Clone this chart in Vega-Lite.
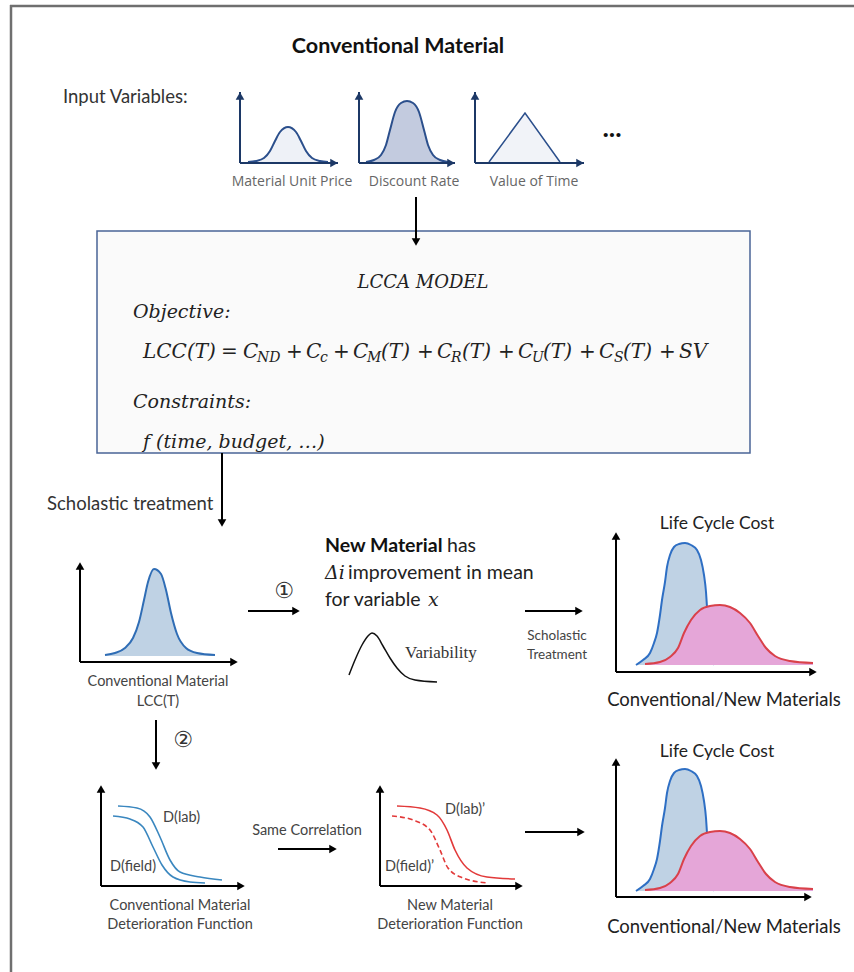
{
"$schema": "https://vega.github.io/schema/vega-lite/v6.json",
"width": 854, "height": 972, "padding": 0, "autosize": {"type": "none"},
"background": "white",
"config": {"view": {"stroke": null}},
"datasets": {
"frame": [{"x":10,"y":6,"x2":854,"y2":6},{"x":11,"y":5,"x2":11,"y2":972}],
"box": [{"x":97,"y":231,"x2":750,"y2":453}],
"rules": [
{"x":240,"y":163,"x2":240,"y2":92,"c":"navy"},{"x":240,"y":163,"x2":338,"y2":163,"c":"navy"},
{"x":359,"y":163,"x2":359,"y2":92,"c":"navy"},{"x":359,"y":163,"x2":455,"y2":163,"c":"navy"},
{"x":475,"y":163,"x2":475,"y2":92,"c":"navy"},{"x":475,"y":163,"x2":584,"y2":163,"c":"navy"},
{"x":416,"y":197,"x2":416,"y2":244,"c":"black"},{"x":222,"y":453,"x2":222,"y2":525,"c":"black"},
{"x":80,"y":662,"x2":80,"y2":564,"c":"black"},{"x":80,"y":662,"x2":236,"y2":662,"c":"black"},
{"x":248,"y":611,"x2":298,"y2":611,"c":"black"},{"x":525,"y":611,"x2":581,"y2":611,"c":"black"},
{"x":616,"y":672,"x2":616,"y2":534,"c":"black"},{"x":616,"y":672,"x2":815,"y2":672,"c":"black"},
{"x":156,"y":720,"x2":156,"y2":768,"c":"black"},
{"x":101,"y":886,"x2":101,"y2":787,"c":"black"},{"x":101,"y":886,"x2":243,"y2":886,"c":"black"},
{"x":278,"y":849,"x2":335,"y2":849,"c":"black"},
{"x":380,"y":886,"x2":380,"y2":787,"c":"black"},{"x":380,"y":886,"x2":521,"y2":886,"c":"black"},
{"x":525,"y":832,"x2":583,"y2":832,"c":"black"},
{"x":616,"y":897,"x2":616,"y2":760,"c":"black"},{"x":616,"y":897,"x2":810,"y2":897,"c":"black"}
],
"heads": [
{"x":240,"y":96,"d":"up","c":"navy"},{"x":359,"y":96,"d":"up","c":"navy"},{"x":475,"y":96,"d":"up","c":"navy"},
{"x":334,"y":163,"d":"right","c":"navy"},{"x":451,"y":163,"d":"right","c":"navy"},{"x":580,"y":163,"d":"right","c":"navy"},
{"x":416,"y":242,"d":"down","c":"black"},{"x":222,"y":523,"d":"down","c":"black"},
{"x":80,"y":566,"d":"up","c":"black"},{"x":234,"y":662,"d":"right","c":"black"},
{"x":296,"y":611,"d":"right","c":"black"},{"x":579,"y":611,"d":"right","c":"black"},
{"x":616,"y":536,"d":"up","c":"black"},{"x":813,"y":672,"d":"right","c":"black"},
{"x":156,"y":766,"d":"down","c":"black"},
{"x":101,"y":789,"d":"up","c":"black"},{"x":241,"y":886,"d":"right","c":"black"},
{"x":333,"y":849,"d":"right","c":"black"},
{"x":380,"y":789,"d":"up","c":"black"},{"x":519,"y":886,"d":"right","c":"black"},
{"x":581,"y":832,"d":"right","c":"black"},
{"x":616,"y":762,"d":"up","c":"black"},{"x":808,"y":897,"d":"right","c":"black"}
],
"curves": [
{"id":"c1","x":248,"y":162},{"id":"c1","x":256,"y":161},{"id":"c1","x":264,"y":158},{"id":"c1","x":270,"y":151},{"id":"c1","x":275,"y":141},{"id":"c1","x":280,"y":132},{"id":"c1","x":288,"y":127},{"id":"c1","x":296,"y":132},{"id":"c1","x":301,"y":141},{"id":"c1","x":306,"y":151},{"id":"c1","x":312,"y":158},{"id":"c1","x":320,"y":161},{"id":"c1","x":328,"y":162},
{"id":"c2","x":366,"y":162},{"id":"c2","x":374,"y":160},{"id":"c2","x":381,"y":155},{"id":"c2","x":386,"y":145},{"id":"c2","x":390,"y":130},{"id":"c2","x":395,"y":112},{"id":"c2","x":401,"y":103},{"id":"c2","x":407,"y":101},{"id":"c2","x":413,"y":103},{"id":"c2","x":419,"y":112},{"id":"c2","x":424,"y":130},{"id":"c2","x":428,"y":145},{"id":"c2","x":433,"y":155},{"id":"c2","x":440,"y":160},{"id":"c2","x":448,"y":162},
{"id":"tri","x":489,"y":162},{"id":"tri","x":525,"y":113},{"id":"tri","x":560,"y":162},
{"id":"A","x":105,"y":655},{"id":"A","x":115,"y":653},{"id":"A","x":125,"y":648},{"id":"A","x":133,"y":638},{"id":"A","x":139,"y":622},{"id":"A","x":144,"y":600},{"id":"A","x":148,"y":582},{"id":"A","x":154,"y":569},{"id":"A","x":161,"y":574},{"id":"A","x":166,"y":590},{"id":"A","x":171,"y":613},{"id":"A","x":177,"y":634},{"id":"A","x":186,"y":648},{"id":"A","x":197,"y":653},{"id":"A","x":215,"y":655},
{"id":"var","x":349,"y":675},{"id":"var","x":355,"y":660},{"id":"var","x":362,"y":645},{"id":"var","x":368,"y":636},{"id":"var","x":372,"y":633},{"id":"var","x":377,"y":636},{"id":"var","x":383,"y":646},{"id":"var","x":390,"y":658},{"id":"var","x":397,"y":668},{"id":"var","x":405,"y":676},{"id":"var","x":415,"y":680},{"id":"var","x":437,"y":682},
{"id":"Bb","x":636,"y":665},{"id":"Bb","x":643,"y":660},{"id":"Bb","x":650,"y":653},{"id":"Bb","x":654,"y":643},{"id":"Bb","x":657,"y":633},{"id":"Bb","x":660,"y":615},{"id":"Bb","x":662,"y":600},{"id":"Bb","x":665,"y":582},{"id":"Bb","x":667,"y":567},{"id":"Bb","x":670,"y":555},{"id":"Bb","x":674,"y":547},{"id":"Bb","x":679,"y":544},{"id":"Bb","x":685,"y":543},{"id":"Bb","x":691,"y":545},{"id":"Bb","x":697,"y":550},{"id":"Bb","x":701,"y":560},{"id":"Bb","x":704,"y":575},{"id":"Bb","x":706,"y":592},{"id":"Bb","x":707,"y":607},{"id":"Bb","x":709,"y":630},{"id":"Bb","x":712,"y":655},{"id":"Bb","x":714,"y":665},
{"id":"Br","x":645,"y":664},{"id":"Br","x":660,"y":662},{"id":"Br","x":670,"y":657},{"id":"Br","x":678,"y":648},{"id":"Br","x":684,"y":633},{"id":"Br","x":691,"y":620},{"id":"Br","x":700,"y":610},{"id":"Br","x":710,"y":606},{"id":"Br","x":720,"y":605},{"id":"Br","x":730,"y":607},{"id":"Br","x":740,"y":613},{"id":"Br","x":750,"y":623},{"id":"Br","x":758,"y":636},{"id":"Br","x":766,"y":648},{"id":"Br","x":775,"y":656},{"id":"Br","x":790,"y":661},{"id":"Br","x":813,"y":663},
{"id":"Eb","x":636,"y":891},{"id":"Eb","x":643,"y":886},{"id":"Eb","x":650,"y":879},{"id":"Eb","x":654,"y":869},{"id":"Eb","x":657,"y":859},{"id":"Eb","x":660,"y":841},{"id":"Eb","x":662,"y":826},{"id":"Eb","x":665,"y":808},{"id":"Eb","x":667,"y":793},{"id":"Eb","x":670,"y":781},{"id":"Eb","x":674,"y":773},{"id":"Eb","x":679,"y":770},{"id":"Eb","x":685,"y":769},{"id":"Eb","x":691,"y":771},{"id":"Eb","x":697,"y":776},{"id":"Eb","x":701,"y":786},{"id":"Eb","x":704,"y":801},{"id":"Eb","x":706,"y":818},{"id":"Eb","x":707,"y":833},{"id":"Eb","x":709,"y":856},{"id":"Eb","x":712,"y":881},{"id":"Eb","x":714,"y":891},
{"id":"Er","x":645,"y":890},{"id":"Er","x":660,"y":888},{"id":"Er","x":670,"y":883},{"id":"Er","x":678,"y":874},{"id":"Er","x":684,"y":859},{"id":"Er","x":691,"y":846},{"id":"Er","x":700,"y":836},{"id":"Er","x":710,"y":832},{"id":"Er","x":720,"y":831},{"id":"Er","x":730,"y":833},{"id":"Er","x":740,"y":839},{"id":"Er","x":750,"y":849},{"id":"Er","x":758,"y":862},{"id":"Er","x":766,"y":874},{"id":"Er","x":775,"y":882},{"id":"Er","x":790,"y":887},{"id":"Er","x":813,"y":889},
{"id":"Blab","x":118,"y":806},{"id":"Blab","x":137,"y":808},{"id":"Blab","x":150,"y":817},{"id":"Blab","x":160,"y":837},{"id":"Blab","x":170,"y":860},{"id":"Blab","x":180,"y":872},{"id":"Blab","x":200,"y":877},{"id":"Blab","x":222,"y":880},
{"id":"Bfield","x":113,"y":816},{"id":"Bfield","x":130,"y":819},{"id":"Bfield","x":143,"y":827},{"id":"Bfield","x":153,"y":847},{"id":"Bfield","x":162,"y":865},{"id":"Bfield","x":173,"y":877},{"id":"Bfield","x":190,"y":882},{"id":"Bfield","x":205,"y":883},
{"id":"Rlab","x":397,"y":806},{"id":"Rlab","x":420,"y":808},{"id":"Rlab","x":437,"y":815},{"id":"Rlab","x":447,"y":830},{"id":"Rlab","x":455,"y":850},{"id":"Rlab","x":467,"y":868},{"id":"Rlab","x":487,"y":877},{"id":"Rlab","x":515,"y":879},
{"id":"Rfield","x":392,"y":816},{"id":"Rfield","x":413,"y":820},{"id":"Rfield","x":430,"y":830},{"id":"Rfield","x":440,"y":850},{"id":"Rfield","x":448,"y":868},{"id":"Rfield","x":463,"y":878},{"id":"Rfield","x":488,"y":883}
],
"texts": [
{"g":"title","t":"Conventional Material","x":398,"y":47},
{"g":"iv","t":"Input Variables:","x":63,"y":97},
{"g":"iv","t":"Scholastic treatment","x":47,"y":504},
{"g":"dots","t":"...","x":612,"y":129},
{"g":"tiny","t":"Material Unit Price","x":292,"y":182},
{"g":"tiny","t":"Discount Rate","x":414,"y":182},
{"g":"tiny","t":"Value of Time","x":534,"y":182},
{"g":"mathc","t":"LCCA MODEL","x":423,"y":283},
{"g":"math","t":"Objective:","x":133,"y":312},
{"g":"math","t":"Constraints:","x":133,"y":402},
{"g":"math","t":"f (time, budget, …)","x":143,"y":442},
{"g":"form","t":"LCC(T)","x":143,"y":352},
{"g":"form","t":"=","x":221,"y":352},
{"g":"form","t":"C","x":243,"y":352},
{"g":"sub","t":"ND","x":257,"y":358},
{"g":"form","t":"+","x":286,"y":352},
{"g":"form","t":"C","x":306,"y":352},
{"g":"sub","t":"c","x":320,"y":358},
{"g":"form","t":"+","x":333,"y":352},
{"g":"form","t":"C","x":353,"y":352},
{"g":"sub","t":"M","x":367,"y":358},
{"g":"form","t":"(T)","x":381,"y":352},
{"g":"form","t":"+","x":417,"y":352},
{"g":"form","t":"C","x":437,"y":352},
{"g":"sub","t":"R","x":451,"y":358},
{"g":"form","t":"(T)","x":462,"y":352},
{"g":"form","t":"+","x":498,"y":352},
{"g":"form","t":"C","x":518,"y":352},
{"g":"sub","t":"U","x":532,"y":358},
{"g":"form","t":"(T)","x":543,"y":352},
{"g":"form","t":"+","x":579,"y":352},
{"g":"form","t":"C","x":599,"y":352},
{"g":"sub","t":"S","x":614,"y":358},
{"g":"form","t":"(T)","x":623,"y":352},
{"g":"form","t":"+","x":659,"y":352},
{"g":"form","t":"SV","x":679,"y":352},
{"g":"cap13","t":"Conventional Material","x":158,"y":682},
{"g":"cap13","t":"LCC(T)","x":158,"y":702},
{"g":"cap13","t":"Conventional Material","x":180,"y":906},
{"g":"cap13","t":"Deterioration Function","x":180,"y":925},
{"g":"cap13","t":"New Material","x":450,"y":906},
{"g":"cap13","t":"Deterioration Function","x":450,"y":925},
{"g":"circ","t":"①","x":284,"y":591},
{"g":"circ","t":"②","x":183,"y":740},
{"g":"nmb","t":"New Material","x":325,"y":546},
{"g":"nm","t":"has","x":447,"y":546},
{"g":"nm","t":"improvement in mean","x":348,"y":573},
{"g":"nm","t":"for variable","x":325,"y":600},
{"g":"nmi","t":"Δi","x":325,"y":573},
{"g":"nmi","t":"x","x":428,"y":600},
{"g":"var","t":"Variability","x":405,"y":653},
{"g":"cap12","t":"Scholastic","x":557,"y":636},
{"g":"cap12","t":"Treatment","x":557,"y":655},
{"g":"sc","t":"Same Correlation","x":307,"y":831},
{"g":"dl","t":"D(lab)","x":163,"y":818},
{"g":"dl","t":"D(field)","x":110,"y":867},
{"g":"dl","t":"D(lab)’","x":445,"y":810},
{"g":"dl","t":"D(field)’","x":385,"y":867},
{"g":"lcc","t":"Life Cycle Cost","x":717,"y":524},
{"g":"lcc","t":"Life Cycle Cost","x":717,"y":752},
{"g":"cnm","t":"Conventional/New Materials","x":724,"y":700},
{"g":"cnm","t":"Conventional/New Materials","x":724,"y":927}
]
},
"encoding": {
"x": {"field":"x","type":"quantitative","scale":{"domain":[0,854],"nice":false,"zero":false},"axis":null},
"y": {"field":"y","type":"quantitative","scale":{"domain":[0,972],"nice":false,"zero":false,"reverse":true},"axis":null}
},
"layer": [
{"data":{"name":"box"},"mark":{"type":"rect","fill":"#fafafa","stroke":"#4a6496","strokeWidth":1.5},"encoding":{"x2":{"field":"x2"},"y2":{"field":"y2"}}},
{"data":{"name":"frame"},"mark":{"type":"rule","stroke":"#6f6f6f","strokeWidth":2.5},"encoding":{"x2":{"field":"x2"},"y2":{"field":"y2"}}},
{"data":{"name":"curves"},"transform":[{"filter":"datum.id==='c1'"}],"mark":{"type":"area","fill":"#eef1f7","interpolate":"monotone"},"encoding":{"y2":{"datum":163}}},
{"data":{"name":"curves"},"transform":[{"filter":"datum.id==='c2'"}],"mark":{"type":"area","fill":"#c3cbdf","interpolate":"monotone"},"encoding":{"y2":{"datum":163}}},
{"data":{"name":"curves"},"transform":[{"filter":"datum.id==='tri'"}],"mark":{"type":"area","fill":"#f1f3f8","interpolate":"linear"},"encoding":{"y2":{"datum":163}}},
{"data":{"name":"curves"},"transform":[{"filter":"datum.id==='c1' || datum.id==='c2'"}],"mark":{"type":"line","stroke":"#2b4f8c","strokeWidth":2,"interpolate":"monotone"},"encoding":{"detail":{"field":"id"}}},
{"data":{"name":"curves"},"transform":[{"filter":"datum.id==='tri'"}],"mark":{"type":"line","stroke":"#2b4f8c","strokeWidth":1.5,"interpolate":"linear"}},
{"data":{"name":"curves"},"transform":[{"filter":"datum.id==='A'"}],"mark":{"type":"area","fill":"#bfd2e4","interpolate":"monotone"},"encoding":{"y2":{"datum":656}}},
{"data":{"name":"curves"},"transform":[{"filter":"datum.id==='A'"}],"mark":{"type":"line","stroke":"#2f6db5","strokeWidth":2,"interpolate":"monotone"}},
{"data":{"name":"curves"},"transform":[{"filter":"datum.id==='Bb'"}],"mark":{"type":"area","fill":"#bfd2e4","interpolate":"monotone"},"encoding":{"y2":{"datum":665}}},
{"data":{"name":"curves"},"transform":[{"filter":"datum.id==='Bb'"}],"mark":{"type":"line","stroke":"#2e6fc4","strokeWidth":2,"interpolate":"monotone"}},
{"data":{"name":"curves"},"transform":[{"filter":"datum.id==='Br'"}],"mark":{"type":"area","fill":"#e5a6d8","interpolate":"monotone"},"encoding":{"y2":{"datum":665}}},
{"data":{"name":"curves"},"transform":[{"filter":"datum.id==='Br'"}],"mark":{"type":"line","stroke":"#d9414a","strokeWidth":2,"interpolate":"monotone"}},
{"data":{"name":"curves"},"transform":[{"filter":"datum.id==='Eb'"}],"mark":{"type":"area","fill":"#bfd2e4","interpolate":"monotone"},"encoding":{"y2":{"datum":891}}},
{"data":{"name":"curves"},"transform":[{"filter":"datum.id==='Eb'"}],"mark":{"type":"line","stroke":"#2e6fc4","strokeWidth":2,"interpolate":"monotone"}},
{"data":{"name":"curves"},"transform":[{"filter":"datum.id==='Er'"}],"mark":{"type":"area","fill":"#e5a6d8","interpolate":"monotone"},"encoding":{"y2":{"datum":891}}},
{"data":{"name":"curves"},"transform":[{"filter":"datum.id==='Er'"}],"mark":{"type":"line","stroke":"#d9414a","strokeWidth":2,"interpolate":"monotone"}},
{"data":{"name":"curves"},"transform":[{"filter":"datum.id==='var'"}],"mark":{"type":"line","stroke":"#111111","strokeWidth":1.5,"interpolate":"monotone"}},
{"data":{"name":"curves"},"transform":[{"filter":"datum.id==='Blab' || datum.id==='Bfield'"}],"mark":{"type":"line","stroke":"#3a87bf","strokeWidth":1.6,"interpolate":"monotone"},"encoding":{"detail":{"field":"id"}}},
{"data":{"name":"curves"},"transform":[{"filter":"datum.id==='Rlab'"}],"mark":{"type":"line","stroke":"#e23a3a","strokeWidth":1.6,"interpolate":"monotone"}},
{"data":{"name":"curves"},"transform":[{"filter":"datum.id==='Rfield'"}],"mark":{"type":"line","stroke":"#e23a3a","strokeWidth":1.6,"strokeDash":[5,3],"interpolate":"monotone"}},
{"data":{"name":"rules"},"mark":{"type":"rule","strokeWidth":2},"encoding":{"x2":{"field":"x2"},"y2":{"field":"y2"},"color":{"field":"c","type":"nominal","scale":{"domain":["navy","black"],"range":["#1c3866","#000000"]},"legend":null}}},
{"data":{"name":"heads"},"mark":{"type":"point","filled":true,"size":75,"opacity":1},"encoding":{"shape":{"field":"d","type":"nominal","scale":{"domain":["up","down","right"],"range":["triangle-up","triangle-down","triangle-right"]},"legend":null},"color":{"field":"c","type":"nominal","scale":{"domain":["navy","black"],"range":["#1c3866","#000000"]},"legend":null}}},
{"data":{"name":"texts"},"transform":[{"filter":"datum.g==='title'"}],"mark":{"type":"text","font":"Lato","fontWeight":"bold","fontSize":21.5,"align":"center","baseline":"middle","color":"#111111"},"encoding":{"text":{"field":"t"}}},
{"data":{"name":"texts"},"transform":[{"filter":"datum.g==='iv'"}],"mark":{"type":"text","font":"Lato","fontSize":18.5,"align":"left","baseline":"middle","color":"#333333"},"encoding":{"text":{"field":"t"}}},
{"data":{"name":"texts"},"transform":[{"filter":"datum.g==='dots'"}],"mark":{"type":"text","font":"Lato","fontWeight":"bold","fontSize":27,"align":"center","baseline":"middle","color":"#111111"},"encoding":{"text":{"field":"t"}}},
{"data":{"name":"texts"},"transform":[{"filter":"datum.g==='tiny'"}],"mark":{"type":"text","font":"Open Sans","fontSize":14,"align":"center","baseline":"middle","color":"#666666"},"encoding":{"text":{"field":"t"}}},
{"data":{"name":"texts"},"transform":[{"filter":"datum.g==='mathc'"}],"mark":{"type":"text","font":"DejaVu Serif","fontStyle":"italic","fontSize":18,"align":"center","baseline":"middle","color":"#222222"},"encoding":{"text":{"field":"t"}}},
{"data":{"name":"texts"},"transform":[{"filter":"datum.g==='math'"}],"mark":{"type":"text","font":"DejaVu Serif","fontStyle":"italic","fontSize":19,"align":"left","baseline":"middle","color":"#222222"},"encoding":{"text":{"field":"t"}}},
{"data":{"name":"texts"},"transform":[{"filter":"datum.g==='form'"}],"mark":{"type":"text","font":"DejaVu Serif","fontStyle":"italic","fontSize":20,"align":"left","baseline":"middle","color":"#222222"},"encoding":{"text":{"field":"t"}}},
{"data":{"name":"texts"},"transform":[{"filter":"datum.g==='sub'"}],"mark":{"type":"text","font":"DejaVu Serif","fontStyle":"italic","fontSize":14,"align":"left","baseline":"middle","color":"#222222"},"encoding":{"text":{"field":"t"}}},
{"data":{"name":"texts"},"transform":[{"filter":"datum.g==='cap13'"}],"mark":{"type":"text","font":"Lato","fontSize":14.5,"align":"center","baseline":"middle","color":"#444444"},"encoding":{"text":{"field":"t"}}},
{"data":{"name":"texts"},"transform":[{"filter":"datum.g==='circ'"}],"mark":{"type":"text","font":"DejaVu Sans","fontSize":22,"align":"center","baseline":"middle","color":"#333333"},"encoding":{"text":{"field":"t"}}},
{"data":{"name":"texts"},"transform":[{"filter":"datum.g==='nmb'"}],"mark":{"type":"text","font":"Lato","fontWeight":"bold","fontSize":19.5,"align":"left","baseline":"middle","color":"#111111"},"encoding":{"text":{"field":"t"}}},
{"data":{"name":"texts"},"transform":[{"filter":"datum.g==='nm'"}],"mark":{"type":"text","font":"Lato","fontSize":19.5,"align":"left","baseline":"middle","color":"#222222"},"encoding":{"text":{"field":"t"}}},
{"data":{"name":"texts"},"transform":[{"filter":"datum.g==='nmi'"}],"mark":{"type":"text","font":"DejaVu Serif","fontStyle":"italic","fontSize":19,"align":"left","baseline":"middle","color":"#222222"},"encoding":{"text":{"field":"t"}}},
{"data":{"name":"texts"},"transform":[{"filter":"datum.g==='var'"}],"mark":{"type":"text","font":"Liberation Serif","fontSize":17,"align":"left","baseline":"middle","color":"#333333"},"encoding":{"text":{"field":"t"}}},
{"data":{"name":"texts"},"transform":[{"filter":"datum.g==='cap12'"}],"mark":{"type":"text","font":"Lato","fontSize":13.5,"align":"center","baseline":"middle","color":"#444444"},"encoding":{"text":{"field":"t"}}},
{"data":{"name":"texts"},"transform":[{"filter":"datum.g==='sc'"}],"mark":{"type":"text","font":"Lato","fontSize":14.5,"align":"center","baseline":"middle","color":"#444444"},"encoding":{"text":{"field":"t"}}},
{"data":{"name":"texts"},"transform":[{"filter":"datum.g==='dl'"}],"mark":{"type":"text","font":"Lato","fontSize":14.5,"align":"left","baseline":"middle","color":"#444444"},"encoding":{"text":{"field":"t"}}},
{"data":{"name":"texts"},"transform":[{"filter":"datum.g==='lcc'"}],"mark":{"type":"text","font":"Lato","fontSize":17.5,"align":"center","baseline":"middle","color":"#222222"},"encoding":{"text":{"field":"t"}}},
{"data":{"name":"texts"},"transform":[{"filter":"datum.g==='cnm'"}],"mark":{"type":"text","font":"Lato","fontSize":18.5,"align":"center","baseline":"middle","color":"#222222"},"encoding":{"text":{"field":"t"}}}
]
}
